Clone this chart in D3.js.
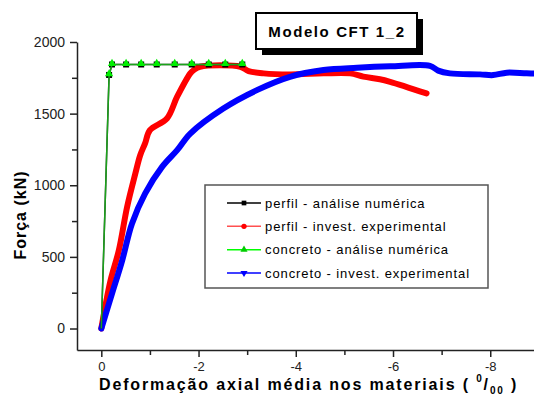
<!DOCTYPE html>
<html lang="pt">
<head>
	<meta charset="utf-8">
	<title>Modelo CFT 1_2</title>
	<script src="https://d3js.org/d3.v7.min.js"></script>
	<style type="text/css">
		body { margin: 0; background: #fff; }
		.axis path,
		.axis line {
		    fill: none;
		    stroke: #222;
		    stroke-width: 1.5px;
		}
		.axis text {
		    font-family: "Liberation Sans", Arial, sans-serif;
		    font-size: 13px;
		    fill: #222;
		}
	</style>
</head>
<body>
<script type="text/javascript">

	// Curve values (x in permil, y in kN)
	var perfilNumX = [0, -0.16, -0.22, -0.51, -0.82, -1.14, -1.51, -1.86, -2.21, -2.55, -2.9];
	var perfilNumY = [0, 1770, 1843, 1843, 1843, 1843, 1843, 1843, 1843, 1843, 1843];

	var concretoNumX = [0, -0.16, -0.22, -0.51, -0.82, -1.14, -1.51, -1.86, -2.21, -2.55, -2.9];
	var concretoNumY = [0, 1770, 1843, 1843, 1843, 1843, 1843, 1843, 1843, 1843, 1843];

	var perfilExpX = [0, -0.19, -0.36, -0.53, -0.70, -0.80, -0.90, -1.0, -1.35, -1.56, -1.83, -1.9, -2.03, -2.86, -3.03, -3.34, -3.88, -4.57, -5.12, -5.39, -5.73, -5.94, -6.69];
	var perfilExpY = [0, 336, 545, 848, 1082, 1210, 1292, 1385, 1466, 1618, 1781, 1804, 1827, 1827, 1797, 1781, 1774, 1781, 1781, 1758, 1740, 1722, 1641];

	var concretoExpX = [0, -0.22, -0.43, -0.63, -0.9, -1.25, -1.56, -1.83, -2.51, -3.2, -3.88, -4.57, -5.26, -5.94, -6.76, -6.93, -7.17, -7.79, -8.06, -8.34, -8.75, -8.95];
	var concretoExpY = [0, 243, 476, 732, 942, 1128, 1245, 1361, 1536, 1664, 1757, 1804, 1820, 1830, 1834, 1800, 1781, 1774, 1769, 1786, 1781, 1781];

	var xTicks = [0, -1, -2, -3, -4, -5, -6, -7, -8];
	var yTicks = [0, 250, 500, 750, 1000, 1250, 1500, 1750, 2000];

	var legendLabels = ["perfil - análise numérica", "perfil - invest. experimental",
	                    "concreto - análise numérica", "concreto - invest. experimental"];

	function zip(xs, ys) {
		return xs.map(function(x, i) { return [x, ys[i]]; });
	}

	var width = 534;
	var height = 397;

	var svg = d3.select("body")
				.append("svg")
				.attr("width", width)
				.attr("height", height)
				.style("font-family", "'Liberation Sans', Arial, sans-serif");

	// Scales
	var xScale = d3.scaleLinear()
					.domain([0.5, -8.9])
					.range([77, 534]);

	var yScale = d3.scaleLinear()
					.domain([-150, 2000])
					.range([350, 42]);

	// X axis, labels only on the even ticks
	var xAxis = d3.axisBottom(xScale)
					.tickValues(xTicks)
					.tickSize(6)
					.tickSizeOuter(0)
					.tickFormat(function(d) { return d % 2 === 0 ? String(d) : ""; });

	var gx = svg.append("g")
		.attr("class", "axis")
		.attr("transform", "translate(0,350)")
		.call(xAxis);
	gx.selectAll(".tick line").attr("y2", function(d) { return d % 2 === 0 ? 7 : 5; });
	gx.selectAll(".tick text").attr("y", 12);

	// Y axis, labels every 500
	var yAxis = d3.axisLeft(yScale)
					.tickValues(yTicks)
					.tickSizeOuter(0)
					.tickFormat(function(d) { return d % 500 === 0 ? d : ""; });

	var gy = svg.append("g")
		.attr("class", "axis")
		.attr("transform", "translate(77,0)")
		.call(yAxis);
	gy.selectAll(".tick line").attr("x2", function(d) { return d % 500 === 0 ? -7 : -5; });
	gy.selectAll(".tick text").attr("x", -12).style("font-size", "14px");

	// Axis titles
	var xTitle = svg.append("text")
		.attr("x", 99)
		.attr("y", 390)
		.style("font-weight", "bold")
		.style("font-size", "16px")
		.style("letter-spacing", "1.85px")
		.text("Deformação axial média nos materiais ( ");
	xTitle.append("tspan").attr("dy", -8).style("font-size", "10px").text("0");
	xTitle.append("tspan").attr("dy", 8).text("/");
	xTitle.append("tspan").attr("dy", 4).style("font-size", "10px").text("00");
	xTitle.append("tspan").attr("dy", -4).text(" )");

	svg.append("text")
		.attr("transform", "translate(26,215) rotate(-90)")
		.attr("text-anchor", "middle")
		.style("font-weight", "bold")
		.style("font-size", "16px")
		.style("letter-spacing", "1px")
		.text("Força (kN)");

	// Line generators
	var line = d3.line()
				.x(function(d) { return xScale(d[0]); })
				.y(function(d) { return yScale(d[1]); });

	var smooth = d3.line()
				.curve(d3.curveCatmullRom.alpha(0.5))
				.x(function(d) { return xScale(d[0]); })
				.y(function(d) { return yScale(d[1]); });

	// Experimental curves (thick)
	svg.append("path")
		.datum(zip(perfilExpX, perfilExpY))
		.attr("d", smooth)
		.attr("fill", "none")
		.attr("stroke", "#ff0000")
		.attr("stroke-width", 6)
		.attr("stroke-linecap", "round");

	svg.append("path")
		.datum(zip(concretoExpX, concretoExpY))
		.attr("d", smooth)
		.attr("fill", "none")
		.attr("stroke", "#0000ff")
		.attr("stroke-width", 6)
		.attr("stroke-linecap", "round");

	// Numerical curves
	svg.append("path")
		.datum(zip(perfilNumX, perfilNumY))
		.attr("d", line)
		.attr("fill", "none")
		.attr("stroke", "#000")
		.attr("stroke-width", 1.5);

	svg.selectAll("rect.perfil")
		.data(zip(perfilNumX, perfilNumY).slice(1))
		.enter()
		.append("rect")
		.attr("class", "perfil")
		.attr("x", function(d) { return xScale(d[0]) - 3; })
		.attr("y", function(d) { return yScale(d[1]) - 3; })
		.attr("width", 6)
		.attr("height", 6)
		.attr("fill", "#000");

	svg.append("path")
		.datum(zip(concretoNumX, concretoNumY))
		.attr("d", line)
		.attr("fill", "none")
		.attr("stroke", "#22cc22")
		.attr("stroke-width", 1.5)
		.attr("stroke-opacity", 0.8);

	var tri = d3.symbol().type(d3.symbolTriangle).size(30);

	svg.selectAll("path.concreto")
		.data(zip(concretoNumX, concretoNumY).slice(1))
		.enter()
		.append("path")
		.attr("class", "concreto")
		.attr("d", tri)
		.attr("transform", function(d) { return "translate(" + xScale(d[0]) + "," + (yScale(d[1]) - 1) + ")"; })
		.attr("fill", "#00ee00");

	// Title box with shadow
	svg.append("rect")
		.attr("x", 262).attr("y", 19)
		.attr("width", 161).attr("height", 36)
		.attr("fill", "#000");
	svg.append("rect")
		.attr("x", 256).attr("y", 13)
		.attr("width", 161).attr("height", 36)
		.attr("fill", "#fff")
		.attr("stroke", "#000")
		.attr("stroke-width", 2);
	svg.append("text")
		.attr("x", 337)
		.attr("y", 37)
		.attr("text-anchor", "middle")
		.style("font-weight", "bold")
		.style("font-size", "15px")
		.style("letter-spacing", "1.6px")
		.text("Modelo CFT 1_2");

	// Legend
	var legend = svg.append("g");
	legend.append("rect")
		.attr("x", 205).attr("y", 185)
		.attr("width", 283).attr("height", 103)
		.attr("fill", "#fff")
		.attr("stroke", "#555")
		.attr("stroke-width", 1.5);

	var legendColors = ["#000", "#ff5050", "#00ff00", "#0000ff"];
	var markerColors = ["#000", "#ff0000", "#00cc00", "#0000ff"];
	var legendY = d3.scalePoint().domain(legendLabels).range([203, 273]);

	var items = legend.selectAll("g.item")
		.data(legendLabels)
		.enter()
		.append("g")
		.attr("class", "item")
		.attr("transform", function(d) { return "translate(0," + legendY(d) + ")"; });

	items.append("line")
		.attr("x1", 227).attr("x2", 261)
		.attr("stroke", function(d, i) { return legendColors[i]; })
		.attr("stroke-width", 1.5);

	items.append("path")
		.attr("d", function(d, i) {
			var types = [d3.symbolSquare, d3.symbolCircle, d3.symbolTriangle, d3.symbolTriangle];
			return d3.symbol().type(types[i]).size(22)();
		})
		.attr("transform", function(d, i) { return "translate(244,0)" + (i === 3 ? " rotate(180)" : ""); })
		.attr("fill", function(d, i) { return markerColors[i]; });

	items.append("text")
		.attr("x", 265)
		.attr("dy", "0.35em")
		.style("font-size", "13px")
		.style("letter-spacing", "0.9px")
		.text(function(d) { return d; });

</script>
</body>
</html>
